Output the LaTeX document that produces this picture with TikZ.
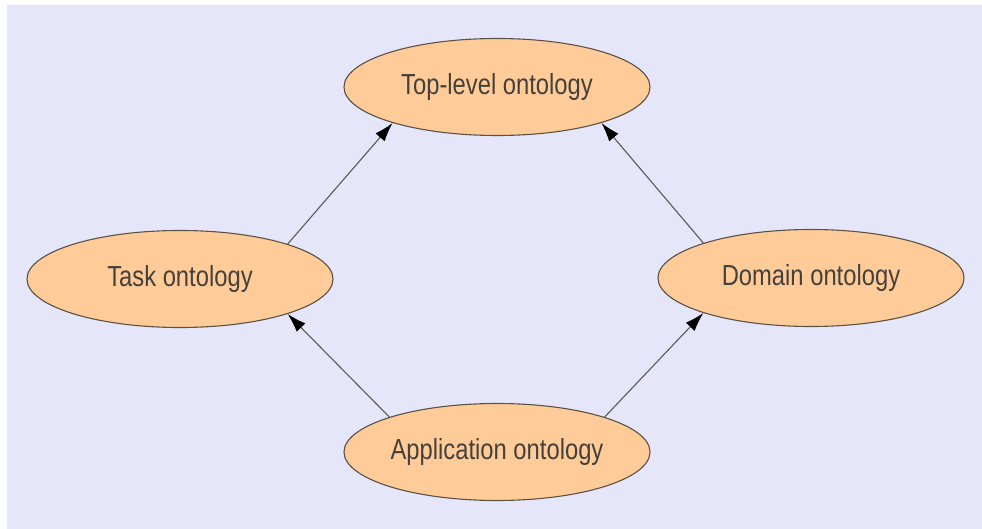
\documentclass[tikz,border=0pt]{standalone}
\usepackage{fontspec}
\setmainfont{Liberation Sans}[FakeStretch=0.82]
\usetikzlibrary{positioning,shapes.geometric,arrows.meta}
\definecolor{lavback}{HTML}{E6E6FA}
\definecolor{peach}{HTML}{FFCC99}
\definecolor{rimcol}{HTML}{5A5244}
\definecolor{txtcol}{HTML}{45403A}
\begin{document}
\begin{tikzpicture}[x=1pt,y=-1pt,
		ontnode/.style={ellipse,draw=rimcol,line width=1.1pt,fill=peach,text=txtcol,
			minimum width=306pt,minimum height=97pt,inner sep=0pt,font=\fontsize{29}{30}\selectfont},
		ontarrow/.style={draw=black!65,line width=1.1pt,-{Latex[length=19pt,width=12pt,color=black]}}]
		\useasboundingbox (0,0) rectangle (982,529);
		\fill[lavback] (7,5) rectangle (982,529);

		\node[ontnode] at (497,87) 	(top)	{Top-level ontology};
		\node[ontnode] at (180,279) 	(task)	{Task ontology};
		\node[ontnode] at (811,278) 	(domain)	{Domain ontology};
		\node[ontnode] at (497,452) 	(app)	{Application ontology};

		\draw[ontarrow] (task.18) -- (top.199);
		\draw[ontarrow] (domain.162) -- (top.341);
		\draw[ontarrow] (app.162) -- (task.342);
		\draw[ontarrow] (app.18) -- (domain.198);
	\end{tikzpicture}
\end{document}
